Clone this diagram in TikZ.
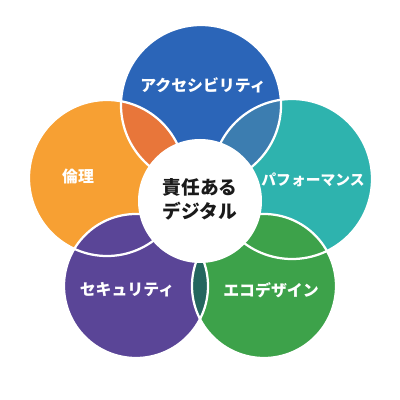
\documentclass[tikz,border=0pt]{standalone}
\usepackage{fontspec}
\newfontfamily\jp{Noto Sans CJK JP}
\definecolor{cblue}{HTML}{2B65B8}
\definecolor{cteal}{HTML}{2EB3AE}
\definecolor{cgreen}{HTML}{3DA24A}
\definecolor{cpurple}{HTML}{5A4597}
\definecolor{corange}{HTML}{F7A033}
\definecolor{lbo}{HTML}{E8763A}
\definecolor{lbt}{HTML}{3C7DB0}
\definecolor{lgp}{HTML}{24665E}
\definecolor{ctext}{HTML}{1A1A1A}
\tikzset{
  petal/.style={line width=1.6pt, draw=white},
  lbl/.style={text=white, font=\jp\bfseries\fontsize{11.3}{13}\selectfont, inner sep=0pt},
  hub/.style={text=ctext, font=\jp\bfseries\fontsize{13.3}{18}\selectfont, align=center, inner sep=0pt}
}
\begin{document}
\begin{tikzpicture}[x=0.025cm, y=-0.025cm]
\useasboundingbox (0,0) rectangle (400,400);
\coordinate (B) at (201,105);
\coordinate (T) at (292,179);
\coordinate (G) at (264,286);
\coordinate (P) at (136,286);
\coordinate (O) at (107,178);
\def\RB{80}\def\RT{80}\def\RG{72}\def\RP{72}\def\RO{78}
% base fills
\fill[cblue] (B) circle[radius=\RB];
\fill[cteal] (T) circle[radius=\RT];
\fill[cgreen] (G) circle[radius=\RG];
\fill[cpurple] (P) circle[radius=\RP];
\fill[corange] (O) circle[radius=\RO];
% lenses
\begin{scope}\clip (B) circle[radius=\RB]; \fill[lbo] (O) circle[radius=\RO]; \fill[lbt] (T) circle[radius=\RT]; \end{scope}
\begin{scope}\clip (T) circle[radius=\RT]; \fill[cgreen] (G) circle[radius=\RG]; \end{scope}
\begin{scope}\clip (G) circle[radius=\RG]; \fill[lgp] (P) circle[radius=\RP]; \end{scope}
\begin{scope}\clip (P) circle[radius=\RP]; \fill[cpurple] (O) circle[radius=\RO]; \end{scope}
% white outlines
\draw[petal] (B) circle[radius=\RB];
\draw[petal] (T) circle[radius=\RT];
\draw[petal] (G) circle[radius=\RG];
\draw[petal] (P) circle[radius=\RP];
\draw[petal] (O) circle[radius=\RO];
% hub
\node[circle, fill=white, minimum size=124*0.025cm, inner sep=0pt] (hubc) at (200,201) {};
\node[hub] (hubt) at (200,199) {責任ある\\[-1pt]デジタル};
% labels
\node[lbl] (la) at (203,85) {アクセシビリティ};
\node[lbl, font=\jp\bfseries\fontsize{10.5}{13}\selectfont] (lp) at (313,180) {パフォーマンス};
\node[lbl] (lr) at (78,177) {倫理};
\node[lbl] (ls) at (127,290) {セキュリティ};
\node[lbl] (le) at (271,290) {エコデザイン};
\end{tikzpicture}
\end{document}
